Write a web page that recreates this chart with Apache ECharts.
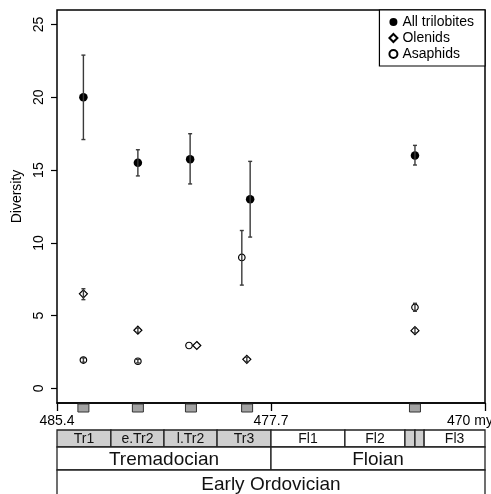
<!DOCTYPE html>
<html><head><meta charset="utf-8">
<script src="https://cdn.jsdelivr.net/npm/echarts@6/dist/echarts.min.js"></script>
<style>html,body{margin:0;padding:0;background:#fff}#c{width:491px;height:494px}</style>
</head><body><div id="c"></div>
<script>
// ---- data (ages in million years, values = diversity) ----
const allAges = [484.45, 482.49, 480.61, 478.45, 472.52];
const allValues = [20, 15.5, 15.75, 13, 16];
const allLow = [17.1, 14.6, 14.05, 10.4, 15.35];
const allHigh = [22.9, 16.4, 17.5, 15.6, 16.7];

const olenidAges = [484.45, 482.49, 480.37, 478.57, 472.52];
const olenidValues = [6.5, 4, 2.95, 2, 3.97];
const olenidLow = [6.1, 3.85, 2.95, 1.85, 3.8];
const olenidHigh = [6.85, 4.15, 2.95, 2.15, 4.15];

const asaphidAges = [484.45, 482.49, 480.65, 478.75, 472.52];
const asaphidValues = [1.95, 1.87, 2.95, 9, 5.57];
const asaphidLow = [1.8, 1.75, 2.95, 7.1, 5.3];
const asaphidHigh = [2.1, 2.0, 2.95, 10.85, 5.85];

const sampleAges = [484.45, 482.49, 480.58, 478.56, 472.52];

const xTickValues = [485.4, 477.7, 470];
const xTickLabels = ['485.4', '477.7', '470 my'];
const yTickValues = [0, 5, 10, 15, 20, 25];

const zoneNames = ['Tr1', 'e.Tr2', 'l.Tr2', 'Tr3', 'Fl1', 'Fl2', '', '', 'Fl3'];
const zoneStart = [485.4, 483.46, 481.55, 479.64, 477.7, 475.04, 472.88, 472.52, 472.19];
const zoneEnd = [483.46, 481.55, 479.64, 477.7, 475.04, 472.88, 472.52, 472.19, 470];
const zoneShaded = [1, 1, 1, 1, 0, 0, 1, 1, 0];
const stageNames = ['Tremadocian', 'Floian'];
const stageStart = [485.4, 477.7];
const stageEnd = [477.7, 470];
const epochNames = ['Early Ordovician'];
const epochStart = [485.4];
const epochEnd = [470];

// ---- layout/style ----
const FONT = '"Liberation Sans", Arial, Helvetica, sans-serif';
const rowTop = [430, 447, 470];
const rowBottom = [447, 470, 497];
const rowFont = [14, 19, 19];

const chart = echarts.init(document.getElementById('c'), null, {renderer: 'canvas'});

function errRender(params, api) {
  const lo = api.coord([api.value(0), api.value(1)]);
  const hi = api.coord([api.value(0), api.value(2)]);
  if (Math.abs(lo[1] - hi[1]) < 0.5) return null;
  const cap = 2;
  const st = {stroke: '#3a3a3a', lineWidth: 1.4};
  return {type: 'group', children: [
    {type: 'line', shape: {x1: lo[0], y1: lo[1], x2: hi[0], y2: hi[1]}, style: st},
    {type: 'line', shape: {x1: lo[0] - cap, y1: lo[1], x2: lo[0] + cap, y2: lo[1]}, style: st},
    {type: 'line', shape: {x1: hi[0] - cap, y1: hi[1], x2: hi[0] + cap, y2: hi[1]}, style: st}
  ]};
}

const scaleRows = [];
zoneNames.forEach((n, i) => scaleRows.push([zoneStart[i], zoneEnd[i], 0, zoneShaded[i], n]));
stageNames.forEach((n, i) => scaleRows.push([stageStart[i], stageEnd[i], 1, 0, n]));
epochNames.forEach((n, i) => scaleRows.push([epochStart[i], epochEnd[i], 2, 0, n]));

function scaleRender(params, api) {
  const d = scaleRows[params.dataIndex];
  const x0 = api.coord([d[0], 0])[0];
  const x1 = api.coord([d[1], 0])[0];
  const r = d[2];
  const y0 = rowTop[r], y1 = rowBottom[r];
  return {type: 'group', children: [
    {type: 'rect', shape: {x: x0, y: y0, width: x1 - x0, height: y1 - y0},
     style: {fill: d[3] ? '#cfcfcf' : '#fff', stroke: '#222', lineWidth: 1.3}},
    {type: 'text', style: {text: d[4], x: (x0 + x1) / 2, y: (y0 + y1) / 2 + 1, align: 'center', verticalAlign: 'middle',
      fontSize: rowFont[r], fontFamily: FONT, fill: '#111'}}
  ]};
}

function squareRender(params, api) {
  const x = api.coord([api.value(0), 0])[0];
  return {type: 'rect', shape: {x: x - 5.5, y: 404, width: 11, height: 8},
    style: {fill: '#a3a3a3', stroke: '#333', lineWidth: 1}};
}

const option = {
  animation: false,
  backgroundColor: '#fff',
  grid: {left: 57, right: 6, top: 10, bottom: 91, show: true, borderColor: '#000', borderWidth: 1.5,
    backgroundColor: 'transparent', containLabel: false, outerBoundsMode: 'none'},
  legend: {
    orient: 'vertical', right: 6, top: 10, itemGap: 2, itemWidth: 8, itemHeight: 8,
    padding: [5, 11, 5, 9], borderColor: '#000', borderWidth: 1.2, backgroundColor: '#fff', borderRadius: 0,
    textStyle: {fontSize: 14, color: '#000', fontFamily: FONT},
    data: ['All trilobites', 'Olenids', 'Asaphids']
  },
  xAxis: {
    type: 'value', inverse: true, min: 470, max: 485.4,
    axisLine: {show: true, onZero: false, lineStyle: {color: '#000', width: 1.5}},
    axisTick: {show: true, customValues: xTickValues, length: 8, lineStyle: {color: '#000', width: 1.3}},
    axisLabel: {show: true, customValues: xTickValues, margin: 11, fontSize: 14, color: '#000', fontFamily: FONT,
      formatter: v => {
        const i = xTickValues.findIndex(t => Math.abs(t - v) < 1e-6);
        const s = i >= 0 ? xTickLabels[i] : '';
        return i === 2 ? '{r|' + s + '}' : s;
      },
      rich: {r: {fontSize: 14, color: '#000', fontFamily: FONT, padding: [0, 30, 0, 0]}}
    },
    splitLine: {show: false}
  },
  yAxis: {
    type: 'value', min: -1, max: 26,
    axisLine: {show: false, onZero: false},
    axisTick: {show: true, customValues: yTickValues, length: 6, lineStyle: {color: '#000', width: 1.2}},
    axisLabel: {show: true, customValues: yTickValues, rotate: 90, margin: 11, fontSize: 14, color: '#000', fontFamily: FONT},
    splitLine: {show: false},
    name: 'Diversity', nameLocation: 'middle', nameGap: 30,
    nameTextStyle: {fontSize: 14, color: '#000', fontFamily: FONT, padding: [0, 0, 0, 20]}
  },
  series: [
    {name: 'All trilobites', type: 'scatter', symbol: 'circle', symbolSize: 8.5, z: 3,
     itemStyle: {color: '#000', borderColor: '#000', borderWidth: 0, opacity: 1},
     data: allAges.map((a, i) => [a, allValues[i]])},
    {name: 'Olenids', type: 'scatter', symbol: 'diamond', symbolSize: 8, z: 3,
     itemStyle: {color: '#fff', borderColor: '#000', borderWidth: 1.2, opacity: 1},
     data: olenidAges.map((a, i) => [a, olenidValues[i]])},
    {name: 'Asaphids', type: 'scatter', symbol: 'circle', symbolSize: 6.5, z: 3,
     itemStyle: {color: '#fff', borderColor: '#000', borderWidth: 1.2, opacity: 1},
     data: asaphidAges.map((a, i) => [a, asaphidValues[i]])},
    {type: 'custom', renderItem: errRender, z: 4, clip: false, encode: {x: 0, y: [1, 2]},
     data: allAges.map((a, i) => [a, allLow[i], allHigh[i]])},
    {type: 'custom', renderItem: errRender, z: 4, clip: false, encode: {x: 0, y: [1, 2]},
     data: olenidAges.map((a, i) => [a, olenidLow[i], olenidHigh[i]])},
    {type: 'custom', renderItem: errRender, z: 4, clip: false, encode: {x: 0, y: [1, 2]},
     data: asaphidAges.map((a, i) => [a, asaphidLow[i], asaphidHigh[i]])},
    {type: 'custom', renderItem: squareRender, z: 2, clip: false, encode: {x: 0},
     data: sampleAges.map(a => [a])},
    {type: 'custom', renderItem: scaleRender, z: 2, clip: false, encode: {x: [0, 1]},
     data: scaleRows.map(r => [r[0], r[1]])}
  ]
};
chart.setOption(option);
</script>
</body></html>
